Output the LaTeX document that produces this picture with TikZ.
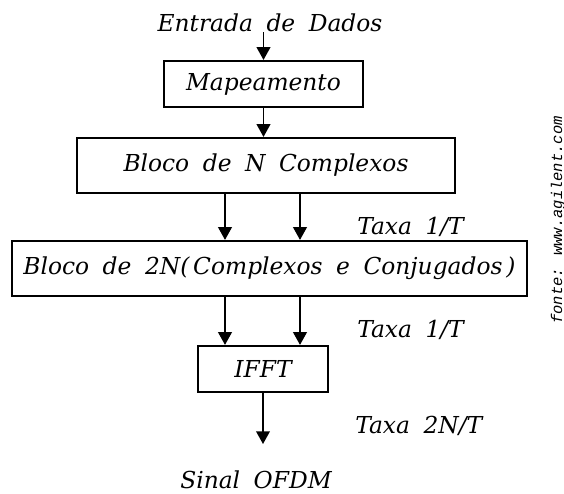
\documentclass[tikz,border=0pt]{standalone}
\usepackage{fontspec}
\setmainfont{DejaVu Serif}
\newfontfamily\fontemono{Liberation Mono}
\newcommand\fontetexto{\fontsize{16.6}{20}\selectfont\itshape\spaceskip=0.58em plus 0.1em\relax}
\usetikzlibrary{arrows.meta}
\usetikzlibrary{positioning}
\usetikzlibrary{calc}

\begin{document}
\begin{tikzpicture}[on grid, node distance=2cm, >={Triangle[length=3.2mm,width=3.4mm]},
    font=\fontetexto,
    bloco/.style={draw, line width=1.5pt, inner sep=0pt},
    texto/.style={inner sep=0pt},
    seta/.style={->, line width=1.4pt}]
      \useasboundingbox (0,0) rectangle (14.1,-12.35);
      \node[texto] (entrada) at (6.75,-0.575) {Entrada de Dados};
      \node[bloco, minimum width=4.975cm, minimum height=1.15cm]  (map)     [below=1.525cm of entrada, xshift=-1.625mm] {Mapeamento};
      \node[bloco, minimum width=9.45cm, minimum height=1.375cm]  (blocoN)  [below=2.0375cm of map, xshift=0.625mm]     {Bloco de N Complexos};
      \node[bloco, minimum width=12.875cm, minimum height=1.375cm] (bloco2N) [below=2.575cm of blocoN, xshift=0.875mm]  {Bloco de 2N(\,Complexos e Conjugados\,)};
      \node[bloco, minimum width=3.25cm, minimum height=1.15cm]   (ifft)    [below=2.5125cm of bloco2N, xshift=-1.625mm] {IFFT};
      \coordinate[below=1.275cm of ifft.south] (saida);
      \node[texto, anchor=base] (sinal) at (6.4,-12.2) {Sinal OFDM};
      \coordinate (esq) at ($(ifft.north)+(-0.95,0)$);
      \coordinate (dir) at ($(ifft.north)+(0.925,0)$);
      \node[texto, anchor=west] (taxa1) at (8.925,-5.675) {Taxa 1/T};
      \node[texto, anchor=west] (taxa2) at (8.925,-8.25)  {Taxa 1/T};
      \node[texto, anchor=west] (taxa3) at (8.875,-10.65) {Taxa 2N/T};
      \node[texto, rotate=90, font=\fontsize{11}{12}\selectfont\fontemono\itshape] (fonte) at (13.95,-5.5) {fonte: www.agilent.com};
      \draw[seta] (map.north |- entrada.south) -- (map.north);
      \draw[seta] (map.south) -- (map.south |- blocoN.north);
      \draw[seta] (esq |- blocoN.south) -- (esq |- bloco2N.north);
      \draw[seta] (dir |- blocoN.south) -- (dir |- bloco2N.north);
      \draw[seta] (esq |- bloco2N.south) -- (esq);
      \draw[seta] (dir |- bloco2N.south) -- (dir);
      \draw[seta] (ifft.south) -- (saida);
    \end{tikzpicture}
\end{document}
